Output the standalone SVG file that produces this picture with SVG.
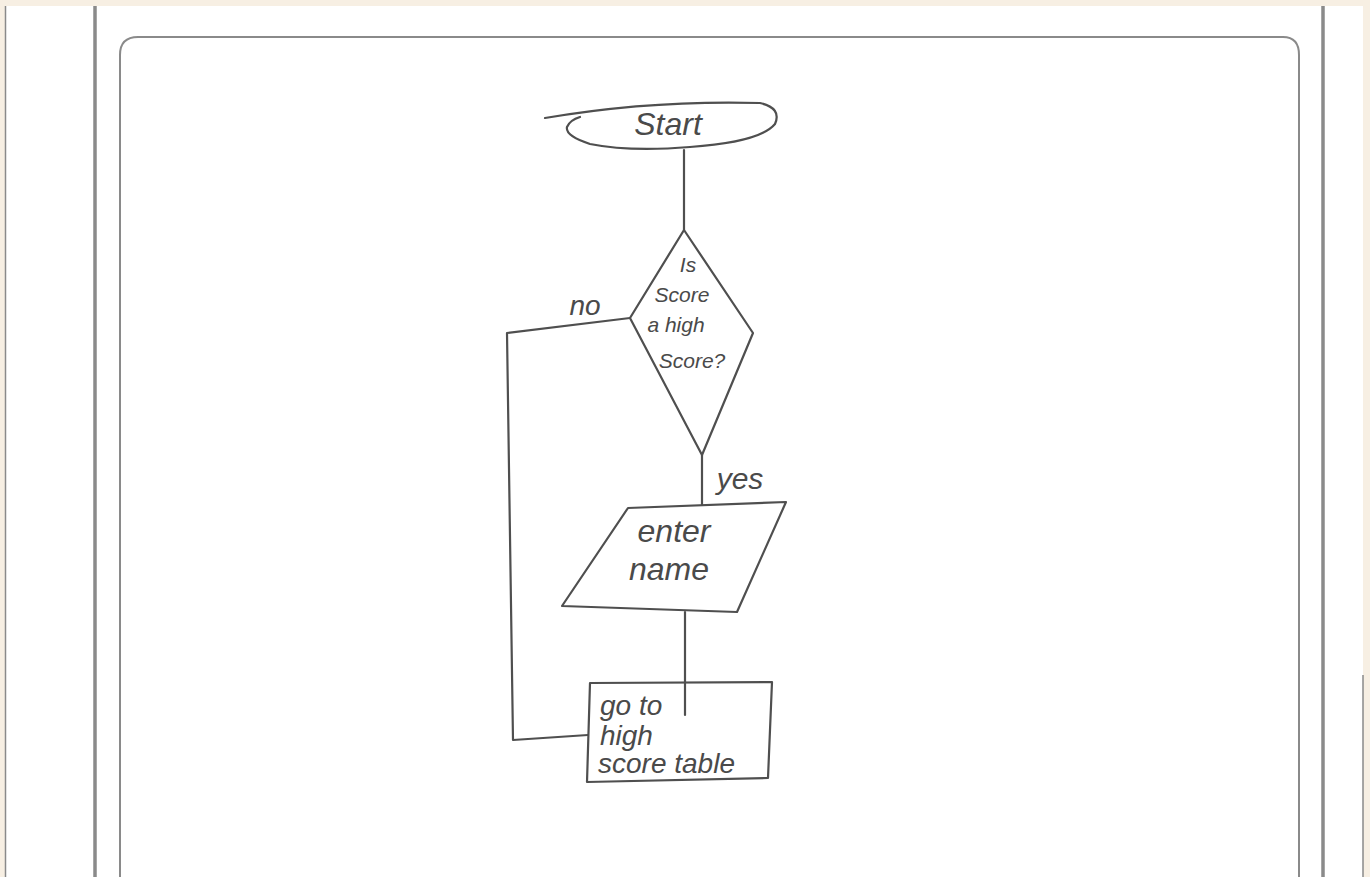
<svg xmlns="http://www.w3.org/2000/svg" width="1370" height="877" viewBox="0 0 1370 877">
<style>
.frame{fill:none;stroke:#8a8a8a}
.ink{fill:none;stroke:#4f4f4f;stroke-width:2.2;stroke-linejoin:round;stroke-linecap:round}
.t{font-family:"Liberation Sans",sans-serif;font-style:italic;fill:#4a4a4a}
</style>
<rect width="1370" height="877" fill="#f7efe3"/>
<rect x="6" y="6" width="1357" height="871" fill="#ffffff"/>
<g id="page">
<line class="frame" x1="5.5" y1="6" x2="5.5" y2="877" stroke-width="1.5"/>
<line class="frame" x1="95" y1="6" x2="95" y2="877" stroke-width="3.5"/>
<line class="frame" x1="1323" y1="6" x2="1323" y2="877" stroke-width="3.5"/>
<line class="frame" x1="1363" y1="675" x2="1363" y2="877" stroke-width="1.5" stroke="#555"/>
<path class="frame" stroke-width="2" d="M120,877 V55 Q120,37 138,37 H1283 Q1299,37 1299,55 V877"/>
</g>
<g id="connectors">
<path class="ink" d="M684,150 L684,230"/>
<path class="ink" d="M630,318 L507,333 L513,740 L588,735"/>
<path class="ink" d="M702,455 L702,505"/>
<path class="ink" d="M685,612 L685,715"/>
</g>
<g id="start">
<path class="ink" d="M545,118 Q650,100 760,103 Q782,108 775,124 Q760,142 690,147 Q630,152 590,144 Q565,136 567,127 Q570,120 580,117"/>
<text class="t" x="668" y="135" font-size="32" text-anchor="middle">Start</text>
</g>
<g id="decision">
<path class="ink" d="M684,230 L753,333 L702,455 L630,318 Z"/>
<text class="t" font-size="21" text-anchor="middle"><tspan x="688" y="272">Is</tspan><tspan x="682" y="302">Score</tspan><tspan x="676" y="332">a high</tspan><tspan x="692" y="368">Score?</tspan></text>
</g>
<g id="labels">
<text class="t" x="585" y="315" font-size="28" text-anchor="middle">no</text>
<text class="t" x="740" y="489" font-size="30" text-anchor="middle">yes</text>
</g>
<g id="input">
<path class="ink" d="M628,508 L786,502 L737,612 L562,606 Z"/>
<text class="t" font-size="32" text-anchor="middle"><tspan x="674" y="542">enter</tspan><tspan x="669" y="580">name</tspan></text>
</g>
<g id="process">
<path class="ink" d="M590,683 L772,682 L768,778 L587,782 Z"/>
<text class="t" font-size="28"><tspan x="600" y="715">go to</tspan><tspan x="600" y="745">high</tspan><tspan x="598" y="773">score table</tspan></text>
</g>
</svg>
